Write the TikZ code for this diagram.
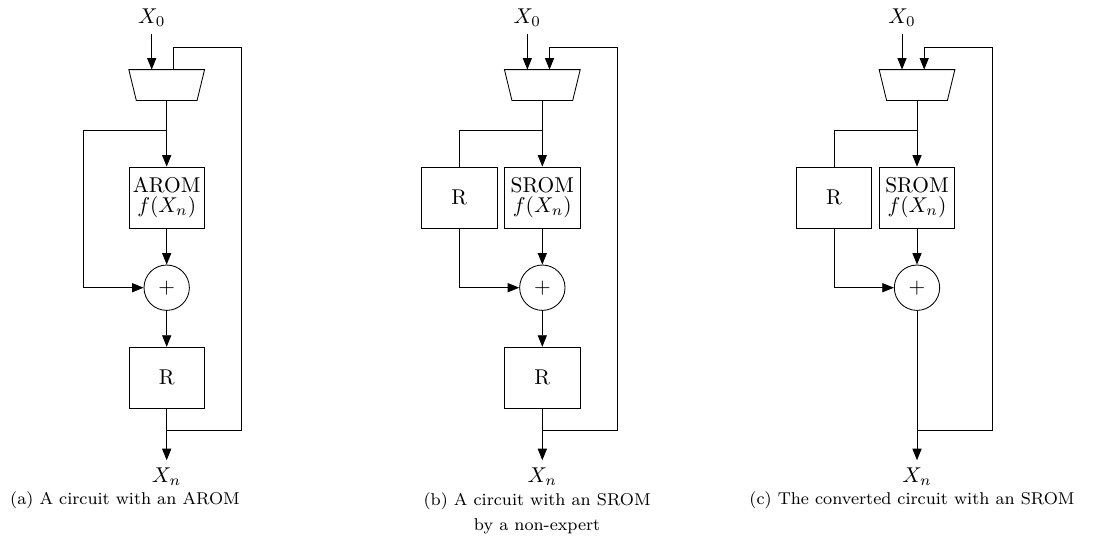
\documentclass[tikz,border=0pt]{standalone}
\usetikzlibrary{arrows.meta}

\begin{document}
\begin{tikzpicture}[
  block/.style={rectangle, draw, minimum width=1.24cm, minimum height=1cm, inner sep=1pt, align=center},
  adder/.style={circle, draw, minimum size=0.745cm, inner sep=0pt},
  muxbox/.style={rectangle, minimum width=1.23cm, minimum height=0.493cm, inner sep=0pt},
  capt/.style={font=\footnotesize, align=center},
  arr/.style={-{Triangle[length=1.9mm, width=1.5mm]}}
]
  \useasboundingbox (0,0) rectangle (18.177,-8.818);

  % (a) circuit with an AROM
  \begin{scope}[xshift=2.737cm]
    \node (x0A) at (-0.246,-0.29) {$X_0$};
    \node[muxbox] (muxA) at (0,-1.396) {};
    \draw (muxA.north west) -- (muxA.north east) -- ([xshift=-0.123cm]muxA.south east)
      -- ([xshift=0.123cm]muxA.south west) -- cycle;
    \node[block] (romA) at (0,-3.243) {AROM\\[-2.5pt]$f(X_n)$};
    \node[adder] (addA) at (0,-4.724) {$+$};
    \node[block] (regA) at (0,-6.202) {R};
    \node (xnA) at (0,-7.828) {$X_n$};
    \coordinate (bA) at (0,-2.135);
    \coordinate (lA) at (-1.363,-2.135);
    \coordinate (jA) at (0,-7.061);
    \coordinate (cA) at (1.232,-0.783);

    \draw[arr] (x0A) -- (x0A |- muxA.north);
    \draw[arr] (muxA) -- (romA);
    \draw[arr] (bA) -- (lA) |- (addA);
    \draw[arr] (romA) -- (addA);
    \draw[arr] (addA) -- (regA);
    \draw[arr] (regA) -- (xnA);
    \draw (jA) -| (cA) -| ([xshift=0.118cm]muxA.north);
  \end{scope}

  % (b) circuit with an SROM by a non-expert
  \begin{scope}[xshift=8.905cm]
    \node (x0B) at (-0.246,-0.29) {$X_0$};
    \node[muxbox] (muxB) at (0,-1.396) {};
    \draw (muxB.north west) -- (muxB.north east) -- ([xshift=-0.123cm]muxB.south east)
      -- ([xshift=0.123cm]muxB.south west) -- cycle;
    \node[block] (romB) at (0,-3.243) {SROM\\[-2.5pt]$f(X_n)$};
    \node[block] (inB) at (-1.363,-3.243) {R};
    \node[adder] (addB) at (0,-4.724) {$+$};
    \node[block] (regB) at (0,-6.202) {R};
    \node (xnB) at (0,-7.828) {$X_n$};
    \coordinate (bB) at (0,-2.135);
    \coordinate (jB) at (0,-7.061);
    \coordinate (cB) at (1.232,-0.783);

    \draw[arr] (x0B) -- (x0B |- muxB.north);
    \draw[arr] (muxB) -- (romB);
    \draw (bB) -| (inB);
    \draw[arr] (inB) |- (addB);
    \draw[arr] (romB) -- (addB);
    \draw[arr] (addB) -- (regB);
    \draw[arr] (regB) -- (xnB);
    \draw[arr] (jB) -| (cB) -| ([xshift=0.118cm]muxB.north);
  \end{scope}

  % (c) converted circuit with an SROM
  \begin{scope}[xshift=15.057cm]
    \node (x0C) at (-0.246,-0.29) {$X_0$};
    \node[muxbox] (muxC) at (0,-1.396) {};
    \draw (muxC.north west) -- (muxC.north east) -- ([xshift=-0.123cm]muxC.south east)
      -- ([xshift=0.123cm]muxC.south west) -- cycle;
    \node[block] (romC) at (0,-3.243) {SROM\\[-2.5pt]$f(X_n)$};
    \node[block] (inC) at (-1.363,-3.243) {R};
    \node[adder] (addC) at (0,-4.724) {$+$};
    \node (xnC) at (0,-7.828) {$X_n$};
    \coordinate (bC) at (0,-2.135);
    \coordinate (jC) at (0,-7.061);
    \coordinate (cC) at (1.232,-0.783);

    \draw[arr] (x0C) -- (x0C |- muxC.north);
    \draw[arr] (muxC) -- (romC);
    \draw (bC) -| (inC);
    \draw[arr] (inC) |- (addC);
    \draw[arr] (romC) -- (addC);
    \draw[arr] (addC) -- (xnC);
    \draw[arr] (jC) -| (cC) -| ([xshift=0.118cm]muxC.north);
  \end{scope}

  % captions
  \node[capt] (capA) at (2.053,-8.21) {(a) A circuit with an AROM};
  \node[capt] (capB) at (8.82,-8.43) {(b) A circuit with an SROM\\[2pt]by a non-expert};
  \node[capt] (capC) at (14.975,-8.21) {(c) The converted circuit with an SROM};
\end{tikzpicture}
\end{document}
